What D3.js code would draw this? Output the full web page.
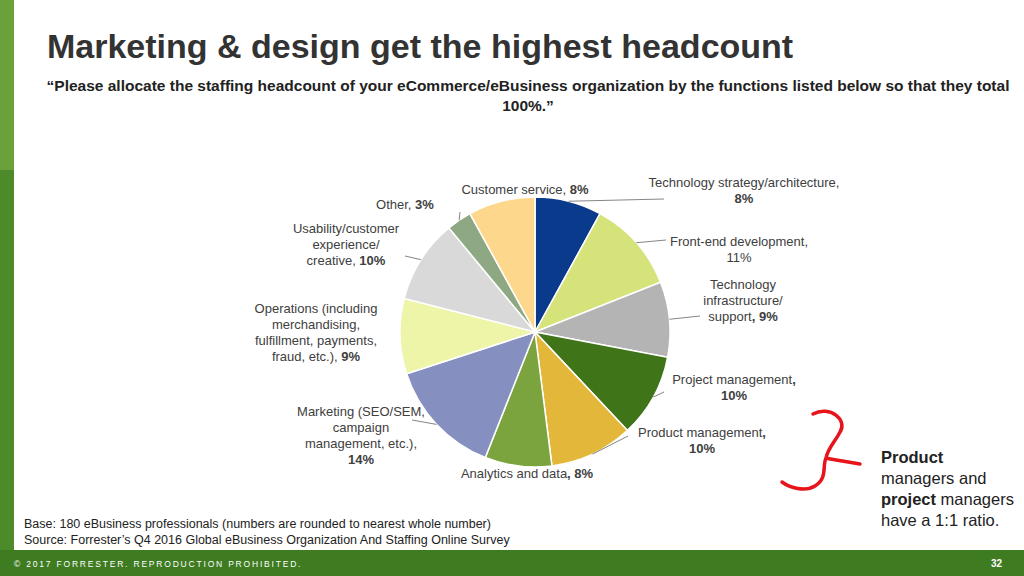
<!DOCTYPE html>
<html><head><meta charset="utf-8">
<script src="https://cdn.jsdelivr.net/npm/d3@7/dist/d3.min.js"></script>
<style>body{margin:0;background:#fff}svg{display:block;font-family:"Liberation Sans",Arial,sans-serif}</style>
</head><body><svg width="1024" height="576"></svg>
<script>
var functions = ["Technology strategy/architecture", "Front-end development", "Technology infrastructure/support",
  "Project management", "Product management", "Analytics and data", "Marketing (SEO/SEM, campaign management, etc.)",
  "Operations (including merchandising, fulfillment, payments, fraud, etc.)", "Usability/customer experience/creative",
  "Other", "Customer service"];
var shares = [8, 11, 9, 10, 10, 8, 14, 9, 10, 3, 8];
var colors = ["#0a3a8c", "#d6e37a", "#b4b4b4", "#3f7419", "#e3b83a", "#7ca43e", "#8690c0", "#eef5a8", "#d9d9d9", "#8da882", "#fdd88c"];

// label layout: lines of [text, bold, bold suffix], anchor x, first baseline y, leader end x/y
var labels = [
  {lines: [["Technology strategy/architecture,", 0], ["8%", 1]], x: 744, y: 187, lx: 664, ly: 199},
  {lines: [["Front-end development,", 0], ["11%", 0]], x: 739, y: 246, lx: 666, ly: 240},
  {lines: [["Technology", 0], ["infrastructure/", 0], ["support", 0, ", 9%"]], x: 743, y: 289, lx: 700, ly: 316},
  {lines: [["Project management", 0, ","], ["10%", 1]], x: 734, y: 384, lx: 664, ly: 392},
  {lines: [["Product management", 0, ","], ["10%", 1]], x: 702, y: 437, lx: 628, ly: 436},
  {lines: [["Analytics and data", 0, ", 8%"]], x: 527, y: 478},
  {lines: [["Marketing (SEO/SEM,", 0], ["campaign", 0], ["management, etc.),", 0], ["14%", 1]], x: 361, y: 416, lx: 412, ly: 420},
  {lines: [["Operations (including", 0], ["merchandising,", 0], ["fulfillment, payments,", 0], ["fraud, etc.), ", 0, "9%"]], x: 316, y: 313},
  {lines: [["Usability/customer", 0], ["experience/", 0], ["creative, ", 0, "10%"]], x: 346, y: 233, lx: 405, ly: 256},
  {lines: [["Other, ", 0, "3%"]], x: 405, y: 209, lx: 460, ly: 212},
  {lines: [["Customer service, ", 0, "8%"]], x: 525, y: 194}
];

var svg = d3.select("svg");
svg.append("rect").attr("x", 0).attr("y", 0).attr("width", 14).attr("height", 170).attr("fill", "#6aa13a");
svg.append("rect").attr("x", 0).attr("y", 170).attr("width", 14).attr("height", 380).attr("fill", "#4c8a2a");
svg.append("rect").attr("x", 0).attr("y", 550).attr("width", 1024).attr("height", 26).attr("fill", "#3e7b21");
svg.append("text").attr("x", 14).attr("y", 567).attr("fill", "#fff").attr("font-size", 8.5).attr("letter-spacing", 1.8)
  .text("© 2017 FORRESTER. REPRODUCTION PROHIBITED.");
svg.append("text").attr("x", 1002).attr("y", 567).attr("fill", "#fff").attr("font-size", 10).attr("font-weight", "bold")
  .attr("text-anchor", "end").text("32");

svg.append("text").attr("x", 47).attr("y", 58).attr("font-size", 34).attr("font-weight", "bold").attr("fill", "#333")
  .text("Marketing & design get the highest headcount");
svg.append("text").attr("x", 528).attr("y", 91).attr("text-anchor", "middle").attr("font-size", 15.5).attr("font-weight", "bold").attr("fill", "#222")
  .text("“Please allocate the staffing headcount of your eCommerce/eBusiness organization by the functions listed below so that they total");
svg.append("text").attr("x", 528).attr("y", 111).attr("text-anchor", "middle").attr("font-size", 15.5).attr("font-weight", "bold").attr("fill", "#222")
  .text("100%.”");

var cx = 535, cy = 332, r = 135;
var pie = d3.pie().sort(null).value(function(d) { return d; });
var arc = d3.arc().innerRadius(0).outerRadius(r);
var arcs = pie(shares);
var g = svg.append("g").attr("transform", "translate(" + cx + "," + cy + ")");
g.selectAll("path").data(arcs).enter().append("path")
  .attr("d", arc).attr("fill", function(d, i) { return colors[i]; })
  .attr("stroke", "#fff").attr("stroke-width", 1.5);

var edge = d3.arc().innerRadius(r).outerRadius(r);
arcs.forEach(function(d, i) {
  var L = labels[i];
  if (L.lx === undefined) return;
  var p = edge.centroid(d);
  svg.append("line").attr("x1", cx + p[0]).attr("y1", cy + p[1]).attr("x2", L.lx).attr("y2", L.ly)
    .attr("stroke", "#666").attr("stroke-width", 0.8);
});

labels.forEach(function(L) {
  var t = svg.append("text").attr("text-anchor", "middle").attr("font-size", 13).attr("fill", "#404040");
  L.lines.forEach(function(ln, j) {
    t.append("tspan").attr("x", L.x).attr("y", L.y + j * 16).attr("font-weight", ln[1] ? "bold" : "normal").text(ln[0]);
    if (ln[2]) t.append("tspan").attr("font-weight", "bold").text(ln[2]);
  });
});

svg.append("text").attr("x", 24).attr("y", 528).attr("font-size", 12.5).attr("fill", "#222")
  .text("Base: 180 eBusiness professionals (numbers are rounded to nearest whole number)");
svg.append("text").attr("x", 24).attr("y", 544).attr("font-size", 12.5).attr("fill", "#222")
  .text("Source: Forrester’s Q4 2016 Global eBusiness Organization And Staffing Online Survey");

svg.append("path").attr("d", "M813,414 C830,405 848,420 840,432 C835,442 828,448 826,458 C835,460 848,462 860,464 M826,458 C822,466 828,478 815,486 C805,492 790,488 782,482")
  .attr("fill", "none").attr("stroke", "#e8141b").attr("stroke-width", 3.5).attr("stroke-linecap", "round");

var note = svg.append("text").attr("font-size", 16.5).attr("fill", "#222");
note.append("tspan").attr("x", 881).attr("y", 463).attr("font-weight", "bold").text("Product");
note.append("tspan").attr("x", 881).attr("y", 484).text("managers and");
note.append("tspan").attr("font-weight", "bold").attr("x", 881).attr("y", 505).text("project");
note.append("tspan").text(" managers");
note.append("tspan").attr("x", 881).attr("y", 526).text("have a 1:1 ratio.");
</script></body></html>
